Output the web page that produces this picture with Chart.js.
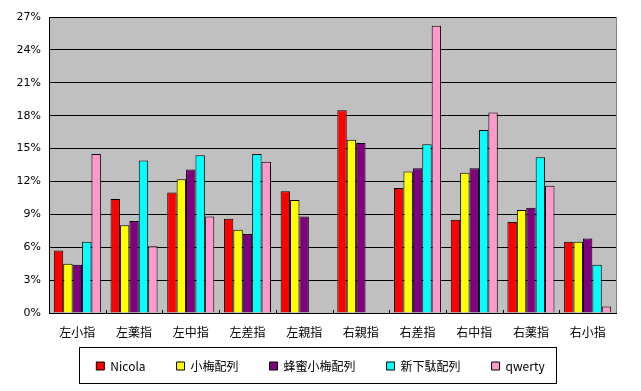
<!DOCTYPE html>
<html>
<head>
<meta charset="utf-8">
<script src="https://cdn.jsdelivr.net/npm/chart.js@4"></script>
<style>
  html, body { margin: 0; padding: 0; background: #fff; }
  #wrap { width: 641px; height: 391px; }
</style>
</head>
<body>
<div id="wrap"><canvas id="myChart"></canvas></div>
<script>
const fingers = ['左小指', '左薬指', '左中指', '左差指', '左親指', '右親指', '右差指', '右中指', '右薬指', '右小指'];
const nicola = [5.7, 10.4, 11.0, 8.6, 11.1, 18.5, 11.4, 8.5, 8.3, 6.5];
const koume = [4.5, 8.0, 12.2, 7.6, 10.3, 15.8, 12.9, 12.8, 9.4, 6.5];
const hachimitsu = [4.4, 8.4, 13.1, 7.2, 8.8, 15.5, 13.2, 13.2, 9.6, 6.8];
const shingeta = [6.5, 13.9, 14.4, 14.5, null, null, 15.4, 16.7, 14.2, 4.4];
const qwerty = [14.5, 6.1, 8.8, 13.8, null, null, 26.2, 18.3, 11.6, 0.6];
const yTicks = [0, 3, 6, 9, 12, 15, 18, 21, 24, 27];

const jpFont = '"Noto Sans CJK JP", "DejaVu Sans", sans-serif';
const legendPad = 31;

// gray plot area, inner x ticks, legend moved up a bit, legend frame
const frames = {
    id: 'frames',
    afterLayout(chart) {
        const lg = chart.legend;
        const h = lg.bottom - lg.top;
        lg.top = 366 - legendPad - 6;
        lg.bottom = lg.top + h;
    },
    beforeDraw(chart) {
        const a = chart.chartArea, ctx = chart.ctx;
        ctx.save();
        ctx.fillStyle = '#C0C0C0';
        ctx.fillRect(a.left, a.top, a.right - a.left, a.bottom - a.top);
        ctx.strokeStyle = '#808080';
        ctx.lineWidth = 1;
        ctx.strokeRect(Math.round(a.left) + 0.5, Math.round(a.top) + 0.5, Math.round(a.right - a.left), Math.round(a.bottom - a.top));
        ctx.restore();
    },
    afterDatasetsDraw(chart) {
        const xs = chart.scales.x, ctx = chart.ctx;
        const bottom = Math.round(chart.chartArea.bottom);
        ctx.save();
        ctx.strokeStyle = '#000';
        ctx.lineWidth = 1;
        ctx.beginPath();
        for (let i = 1; i < fingers.length; i++) {
            const x = Math.round(xs.getPixelForValue(i - 0.5)) + 0.5;
            ctx.moveTo(x, bottom - 3);
            ctx.lineTo(x, bottom);
        }
        ctx.stroke();
        ctx.restore();
    },
    afterDraw(chart) {
        const boxes = chart.legend.legendHitBoxes;
        if (!boxes || !boxes.length) return;
        const ctx = chart.ctx;
        const l = boxes[0].left - 17;
        const r = boxes[boxes.length - 1].left + boxes[boxes.length - 1].width + 12;
        const t = boxes[0].top - 13;
        const b = boxes[0].top + boxes[0].height + 11;
        ctx.save();
        ctx.strokeStyle = '#000';
        ctx.lineWidth = 1;
        ctx.strokeRect(Math.round(l) + 0.5, Math.round(t) + 0.5, Math.round(r - l), Math.round(b - t));
        ctx.restore();
    }
};

const myChart = new Chart(document.getElementById('myChart'), {
    type: 'bar',
    data: {
        labels: fingers,
        datasets: [
            { label: 'Nicola', data: nicola, backgroundColor: '#FF0000' },
            { label: '小梅配列', data: koume, backgroundColor: '#FFFF00' },
            { label: '蜂蜜小梅配列', data: hachimitsu, backgroundColor: '#800080' },
            { label: '新下駄配列', data: shingeta, backgroundColor: '#00FFFF' },
            { label: 'qwerty', data: qwerty, backgroundColor: '#FF99CC' }
        ].map(d => Object.assign(d, {
            borderColor: '#000000',
            borderWidth: 1,
            categoryPercentage: 0.83,
            barPercentage: 1.0
        }))
    },
    options: {
        responsive: true,
        maintainAspectRatio: false,
        animation: false,
        layout: { padding: { top: 17, right: 0, left: 0, bottom: -6 } },
        plugins: {
            tooltip: { enabled: false },
            legend: {
                position: 'bottom',
                labels: {
                    boxWidth: 8,
                    boxHeight: 8,
                    padding: legendPad,
                    color: '#000',
                    font: { family: jpFont, size: 12 }
                }
            }
        },
        scales: {
            x: {
                afterFit: s => { s.height = 31; },
                grid: { display: false, drawTicks: false },
                border: { color: '#000', width: 1 },
                ticks: { color: '#000', padding: 12, font: { family: jpFont, size: 12 } }
            },
            y: {
                min: 0,
                max: 27,
                afterBuildTicks: s => { s.ticks = yTicks.map(v => ({ value: v })); },
                afterFit: s => { s.width = 49; },
                grid: { color: '#000', drawTicks: false },
                border: { color: '#000', width: 1 },
                ticks: {
                    color: '#000',
                    padding: 8,
                    font: { family: '"DejaVu Sans", sans-serif', size: 11 },
                    callback: v => v + '%'
                }
            },
            yRight: {
                position: 'right',
                display: true,
                afterFit: s => { s.width = 25; },
                grid: { display: false },
                border: { display: false },
                ticks: { display: false }
            }
        }
    },
    plugins: [frames]
});
</script>
</body>
</html>
